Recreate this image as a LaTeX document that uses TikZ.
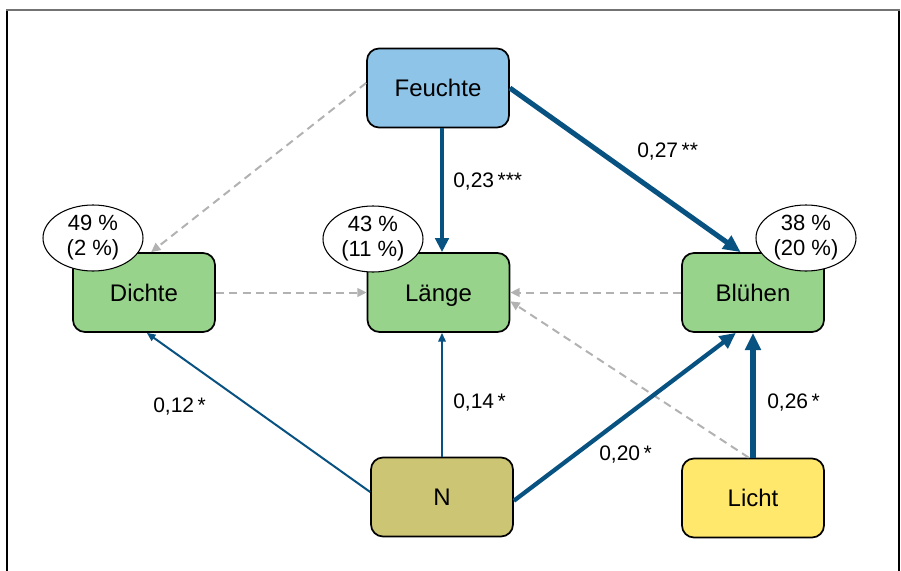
\documentclass[tikz,border=0pt]{standalone}
\usepackage{fontspec}
\setmainfont{Liberation Sans}
\usetikzlibrary{arrows.meta,shapes.geometric,calc}
\definecolor{cFeuchte}{RGB}{142,196,232}
\definecolor{cGreen}{RGB}{152,211,140}
\definecolor{cN}{RGB}{204,197,116}
\definecolor{cLicht}{RGB}{255,232,107}
\definecolor{cBlue}{RGB}{8,82,130}
\definecolor{cDash}{RGB}{178,178,178}
\begin{document}
\begin{tikzpicture}[x=0.75pt,y=-0.75pt,
  box/.style={draw=black, line width=1.3pt, rounded corners=9pt,
    minimum width=106.5pt, minimum height=59.25pt, inner sep=0,
    text height=12.9pt, text depth=0pt,
    font=\fontsize{18pt}{21pt}\selectfont},
  ell/.style={ellipse, draw=black, fill=white, line width=0.8pt,
    minimum width=75pt, minimum height=49.5pt, inner xsep=0pt, inner ysep=-1pt,
    align=center, font=\fontsize{16.5pt}{18.75pt}\selectfont},
  lab/.style={anchor=west, inner sep=0, font=\fontsize{15.75pt}{18pt}\selectfont},
  dashedge/.style={draw=cDash, line width=1.5pt, dash pattern=on 6pt off 4pt,
    -{Triangle[length=7pt,width=6.5pt]}},
  thin/.style={draw=cBlue, line width=1.5pt, -{Triangle[length=6.5pt,width=5.5pt]}},
  mid/.style={draw=cBlue, line width=2.6pt, -{Triangle[length=10.5pt,width=10pt]}},
  thick/.style={draw=cBlue, line width=3.2pt, -{Triangle[length=12pt,width=11pt]}},
  thicker/.style={draw=cBlue, line width=3.8pt, -{Triangle[length=13pt,width=11.5pt]}},
]
\useasboundingbox (0,0) rectangle (901,571);
% frame
\draw[line width=1.2pt, black] (7,575) -- (7,10);
\draw[line width=1.2pt, black] (899,10) -- (899,575);
\draw[line width=1.5pt, black!55] (6.2,10) -- (899.8,10);

% nodes
\node[box, fill=cFeuchte] (feuchte) at (438,88) {Feuchte};
\node[box, fill=cGreen] (dichte) at (144,292.5) {Dichte};
\node[box, fill=cGreen] (lange) at (438.5,292.5) {Länge};
\node[box, fill=cGreen] (bl) at (753,292.5) {Blühen};
\node[box, fill=cN] (n) at (442,497) {N};
\node[box, fill=cLicht] (licht) at (753,498) {Licht};

% dashed (non significant) edges
\draw[dashedge] (feuchte.176) -- (dichte.80);
\draw[dashedge] (dichte.east) -- (lange.west);
\draw[dashedge] (bl.west) -- (lange.east);
\draw[dashedge] (licht.96) -- (lange.-7);

% significant edges
\draw[mid] (feuchte.south -| n.north) -- (lange.north -| n.north);
\draw[thicker] (feuchte.east) -- (bl.107);
\draw[thin] (n.176) -- (dichte.-86);
\draw[thin] (n.north) -- (lange.south -| n.north);
\draw[thick] (n.-3) -- (bl.247);
\draw[thicker] (licht.north) -- (bl.south);

% edge labels
\node[lab] (l23) at (453,182) {0,23\,***};
\node[lab] (l27) at (637,152) {0,27\,**};
\node[lab] (l12) at (153,407) {0,12\,*};
\node[lab] (l14) at (453,403) {0,14\,*};
\node[lab] (l20) at (599,455) {0,20\,*};
\node[lab] (l26) at (767,403) {0,26\,*};

% explained variance ellipses
\node[ell] (e1) at (93,238) {49 \%\\(2 \%)};
\node[ell] (e2) at (373,239) {43 \%\\(11 \%)};
\node[ell] (e3) at (806,238) {38 \%\\(20 \%)};
\end{tikzpicture}
\end{document}
